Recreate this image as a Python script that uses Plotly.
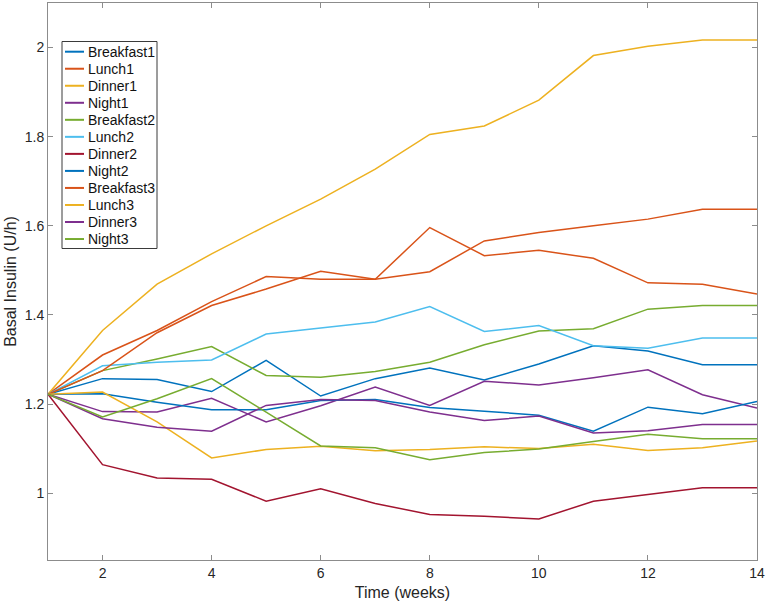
import plotly.graph_objects as go

weeks = list(range(1, 15))

breakfast1 = [1.222, 1.257, 1.255, 1.228, 1.298, 1.218, 1.257, 1.281, 1.254, 1.290, 1.331, 1.319, 1.288, 1.288]
lunch1 = [1.222, 1.310, 1.365, 1.430, 1.486, 1.480, 1.480, 1.596, 1.533, 1.545, 1.527, 1.472, 1.469, 1.447]
dinner1 = [1.222, 1.365, 1.469, 1.537, 1.600, 1.660, 1.727, 1.805, 1.824, 1.882, 1.982, 2.003, 2.017, 2.017]
night1 = [1.222, 1.183, 1.182, 1.213, 1.160, 1.196, 1.238, 1.197, 1.251, 1.243, 1.259, 1.277, 1.221, 1.191]
breakfast2 = [1.222, 1.275, 1.301, 1.329, 1.264, 1.260, 1.273, 1.294, 1.333, 1.364, 1.369, 1.413, 1.421, 1.421]
lunch2 = [1.222, 1.286, 1.294, 1.299, 1.357, 1.370, 1.384, 1.419, 1.363, 1.376, 1.331, 1.325, 1.348, 1.348]
dinner2 = [1.222, 1.064, 1.034, 1.031, 0.982, 1.010, 0.977, 0.952, 0.948, 0.942, 0.982, 0.997, 1.012, 1.012]
night2 = [1.222, 1.223, 1.204, 1.187, 1.187, 1.208, 1.210, 1.192, 1.184, 1.175, 1.139, 1.193, 1.178, 1.206]
breakfast3 = [1.222, 1.275, 1.360, 1.421, 1.458, 1.498, 1.480, 1.497, 1.566, 1.585, 1.600, 1.615, 1.637, 1.637]
lunch3 = [1.222, 1.227, 1.160, 1.079, 1.098, 1.105, 1.095, 1.098, 1.104, 1.100, 1.110, 1.096, 1.102, 1.117]
dinner3 = [1.222, 1.167, 1.148, 1.139, 1.197, 1.210, 1.208, 1.182, 1.163, 1.173, 1.135, 1.140, 1.154, 1.154]
night3 = [1.222, 1.171, 1.212, 1.257, 1.182, 1.106, 1.102, 1.075, 1.091, 1.099, 1.116, 1.132, 1.122, 1.122]

series_names = ["Breakfast1", "Lunch1", "Dinner1", "Night1", "Breakfast2", "Lunch2",
                "Dinner2", "Night2", "Breakfast3", "Lunch3", "Dinner3", "Night3"]
series_values = [breakfast1, lunch1, dinner1, night1, breakfast2, lunch2,
                 dinner2, night2, breakfast3, lunch3, dinner3, night3]
colors = ["#0072BD", "#D95319", "#EDB120", "#7E2F8E", "#77AC30", "#4DBEEE", "#A2142F"]

x_ticks = [2, 4, 6, 8, 10, 12, 14]
y_ticks = [1, 1.2, 1.4, 1.6, 1.8, 2]
y_tick_labels = ["1", "1.2", "1.4", "1.6", "1.8", "2"]

W, H = 768, 608
ML, MR, MT, MB = 48, 11, 3, 48
PW, PH = W - ML - MR, H - MT - MB
FONT = "Liberation Sans, Arial, Helvetica, sans-serif"


def px(xp):
    return (xp - ML) / PW


def py(yp):
    return (H - MB - yp) / PH


fig = go.Figure()
for i, (name, vals) in enumerate(zip(series_names, series_values)):
    fig.add_trace(go.Scatter(
        x=weeks, y=vals, mode="lines", name=name, showlegend=False,
        line=dict(color=colors[i % len(colors)], width=1.5),
    ))

# MATLAB-style legend box (drawn in paper space so its compact row spacing matches)
shapes = [dict(type="rect", xref="paper", yref="paper",
               x0=px(62), x1=px(157), y0=py(41.5), y1=py(248.5),
               line=dict(color="#3a3a3a", width=1), fillcolor="white", layer="above")]
annotations = []
row0, row_gap = 51.7, 17.03
for i, name in enumerate(series_names):
    yy = row0 + i * row_gap
    shapes.append(dict(type="line", xref="paper", yref="paper",
                       x0=px(65), x1=px(84), y0=py(yy), y1=py(yy),
                       line=dict(color=colors[i % len(colors)], width=2), layer="above"))
    annotations.append(dict(xref="paper", yref="paper", x=px(85.5), y=py(yy),
                            text=name, showarrow=False, xanchor="left", yanchor="middle",
                            font=dict(family=FONT, size=14, color="#111111")))

axis_common = dict(
    showgrid=False, zeroline=False, showline=True, linecolor="#8c8c8c", linewidth=1,
    mirror="ticks", ticks="inside", ticklen=5, tickcolor="#8c8c8c",
    tickfont=dict(family=FONT, size=14, color="#262626"),
)

fig.update_layout(
    width=W, height=H,
    margin=dict(l=ML, r=MR, t=MT, b=MB),
    paper_bgcolor="white", plot_bgcolor="white",
    font=dict(family=FONT, color="#262626"),
    showlegend=False,
    shapes=shapes,
    annotations=annotations,
    xaxis=dict(range=[1, 14], tickvals=x_ticks,
               title=dict(text="Time (weeks)", font=dict(size=16), standoff=7),
               automargin=False, **axis_common),
    yaxis=dict(range=[0.85, 2.1], tickvals=y_ticks, ticktext=y_tick_labels,
               title=dict(text="Basal Insulin (U/h)", font=dict(size=16), standoff=4),
               automargin=False, **axis_common),
)

fig.write_html("out.html", config={"displayModeBar": False},
               post_script="document.body.style.margin='0';")
